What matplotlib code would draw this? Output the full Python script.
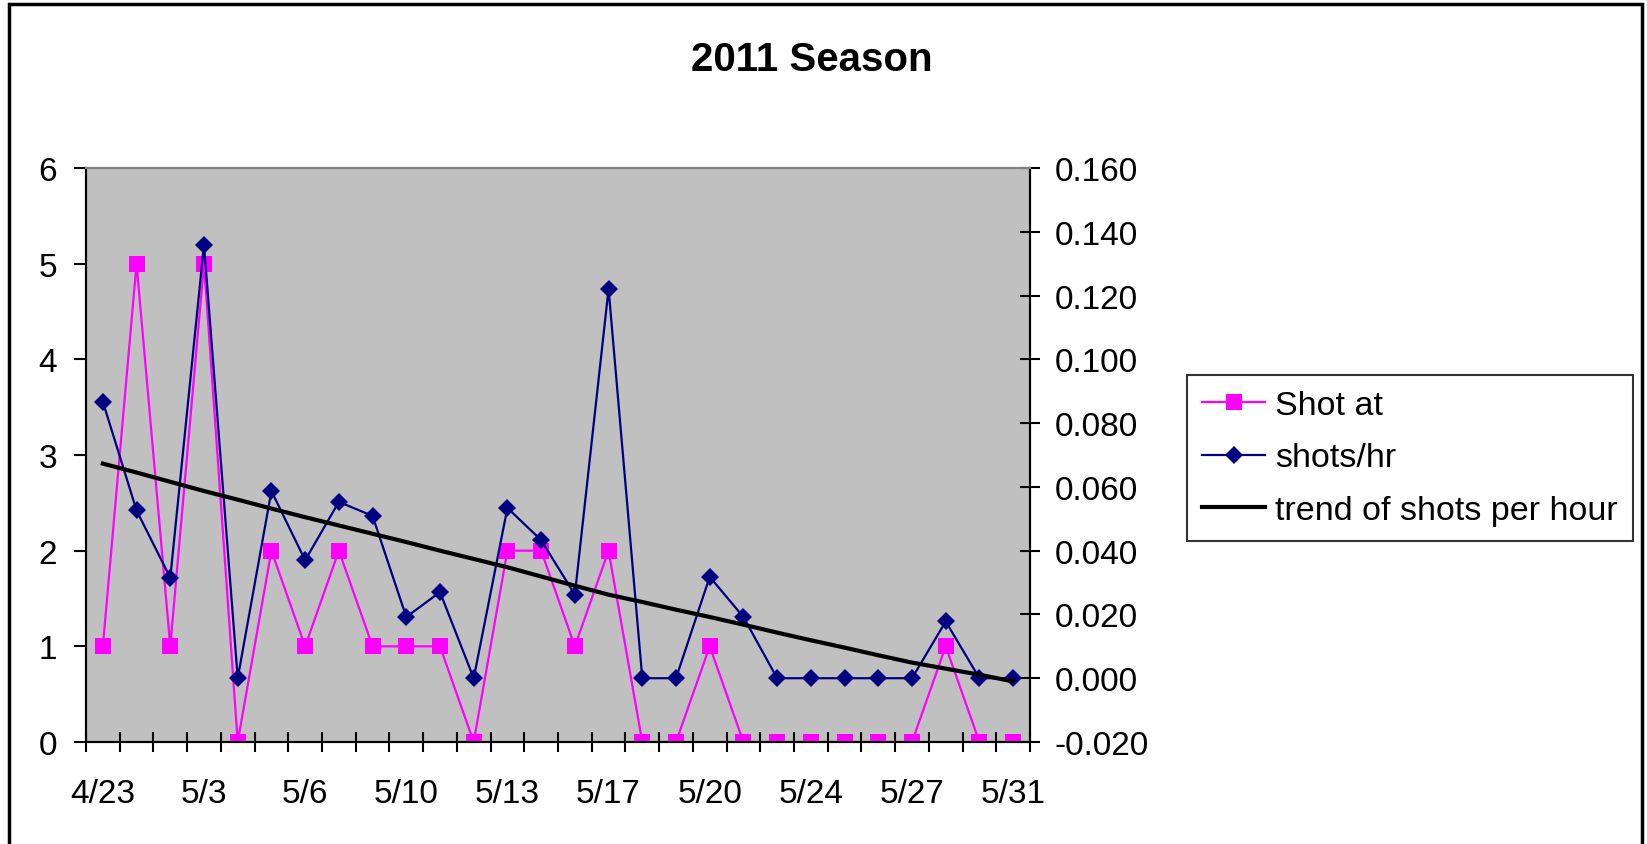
import numpy as np
import matplotlib
matplotlib.use("Agg")
import matplotlib.pyplot as plt
from matplotlib.patches import Rectangle

plt.rcParams['font.family'] = ['Liberation Sans', 'DejaVu Sans']

# category labels (only every third date is shown on the axis)
tick_labels = ["4/23", "5/3", "5/6", "5/10", "5/13", "5/17", "5/20", "5/24", "5/27", "5/31"]

shot_at = [1, 5, 1, 5, 0, 2, 1, 2, 1, 1, 1, 0, 2, 2,
           1, 2, 0, 0, 1, 0, 0, 0, 0, 0, 0, 1, 0, 0]

shots_hr = [0.0867, 0.0526, 0.0315, 0.1360, 0.0, 0.0587, 0.0370, 0.0553, 0.0509, 0.0192,
            0.0270, 0.0, 0.0534, 0.0433, 0.0262, 0.1221, 0.0, 0.0, 0.0318, 0.0192,
            0.0, 0.0, 0.0, 0.0, 0.0, 0.0178, 0.0, 0.0]

# trend series
trend = [0.0673, 0.0645, 0.0616, 0.0587, 0.0560, 0.0532, 0.0505, 0.0479, 0.0453, 0.0427,
         0.0400, 0.0374, 0.0348, 0.0319, 0.0290, 0.0262, 0.0239, 0.0215, 0.0192, 0.0168,
         0.0143, 0.0119, 0.0096, 0.0072, 0.0049, 0.0030, 0.0011, -0.0010]

n = len(shot_at)
x = np.arange(1, n + 1)

W, H = 1647, 845
fig = plt.figure(figsize=(W / 100., H / 100.), dpi=100)

# outer chart border
fig.patches.append(Rectangle((9. / W, -0.02), (1642. - 9.) / W, 1.02 - 5. / H,
                             transform=fig.transFigure, fill=False,
                             edgecolor='black', linewidth=2.5))

left, right, top, bottom = 86, 1030, 169, 743
ax1 = fig.add_axes([left / float(W), (H - bottom) / float(H),
                    (right - left) / float(W), (bottom - top) / float(H)])
ax1.set_facecolor('#C0C0C0')

l1, = ax1.plot(x, shot_at, color='#FF00FF', linewidth=1.6, marker='s',
               markersize=12, markeredgewidth=0, label="Shot at", zorder=3)
ax1.set_ylim(0, 6)
ax1.set_xlim(0.5, n + 0.5)
ax1.set_yticks(range(0, 7))
ax1.tick_params(axis='y', direction='out', length=9, width=1.5, labelsize=24, pad=12)

# tick marks between categories, labels on every third category
ax1.set_xticks(np.arange(0.5, n + 1.0, 1.0))
ax1.set_xticklabels([])
ax1.tick_params(axis='x', which='major', direction='inout', length=15, width=1.5)
ax1.set_xticks(x[::3], minor=True)
ax1.set_xticklabels(tick_labels, minor=True)
ax1.tick_params(axis='x', which='minor', length=0, labelsize=24, pad=26)

ax2 = ax1.twinx()
l2, = ax2.plot(x, shots_hr, color='#000080', linewidth=1.6, marker='D',
               markersize=9.5, markeredgewidth=0, label="shots/hr", zorder=3)
l3, = ax2.plot(x, trend, color='black', linewidth=3.0,
               label="trend of shots per hour", zorder=4)
ax2.set_ylim(-0.02, 0.16)
ax2.set_yticks(np.arange(-0.02, 0.161, 0.02))
ax2.set_yticklabels(["%.3f" % v for v in np.arange(-0.02, 0.161, 0.02)])
ax2.tick_params(axis='y', direction='inout', length=15, width=1.5, labelsize=24, pad=10)

for ax in (ax1, ax2):
    ax.spines['top'].set_color('#808080')
    ax.spines['top'].set_linewidth(1.5)
    ax.spines['left'].set_linewidth(1.5)
    ax.spines['right'].set_linewidth(1.5)
    ax.spines['bottom'].set_linewidth(1.5)

fig.text(812. / W, 1 - 60. / H, "2011 Season", ha='center', va='center',
         fontsize=29, fontweight='bold')

leg = fig.legend([l1, l2, l3], ["Shot at", "shots/hr", "trend of shots per hour"],
                 loc='upper left', bbox_to_anchor=(1187. / W, 1 - 376. / H),
                 prop={'size': 24.5}, frameon=True, fancybox=False, edgecolor='black',
                 handlelength=1.85, handletextpad=0.3, borderpad=0.45,
                 labelspacing=0.62, borderaxespad=0)
leg.get_frame().set_linewidth(1.5)

fig.savefig("out.png", dpi=100)
